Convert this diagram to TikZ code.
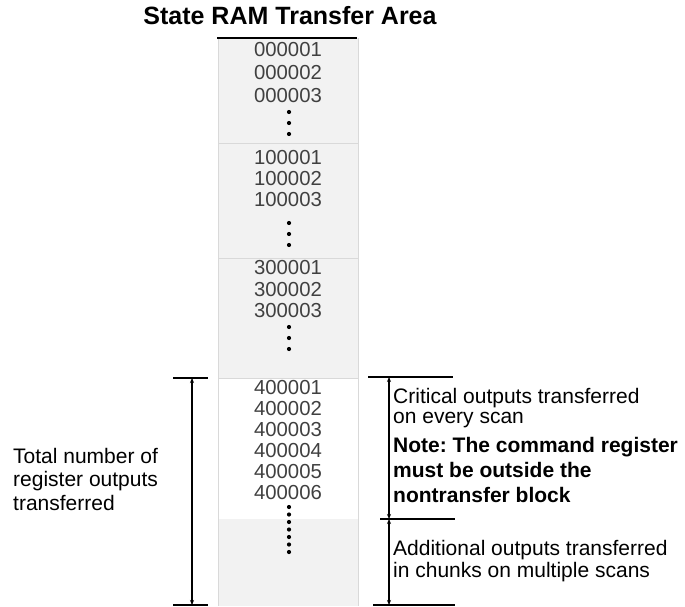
\documentclass[tikz,border=0pt]{standalone}
\usepackage{fontspec}
\setmainfont{Liberation Sans}
\usetikzlibrary{arrows.meta}
\frenchspacing

\tikzset{
  titletext/.style={font=\bfseries\fontsize{25}{28}\selectfont, inner sep=0pt},
  numtext/.style={font=\fontsize{20.3}{21}\selectfont, text=black!75, inner sep=0pt},
  labeltext/.style={align=left, anchor=base west, inner sep=0pt},
  bar/.style={line width=2.4pt},
  dimline/.style={line width=1.5pt, {Stealth[length=5pt,width=4pt]}-{Stealth[length=5pt,width=4pt]}},
}

\begin{document}
\begin{tikzpicture}[x=1pt,y=-1pt]
\useasboundingbox (0,0) rectangle (685,607);

% Title
\node[titletext, anchor=base] (title) at (290,25) {State RAM Transfer Area};

% Column background
\fill[black!5] (218,38) rectangle (358,378);
\fill[white] (218,378) rectangle (358,519);
\fill[black!5] (218,519) rectangle (358,606);
\draw[black!15, line width=1pt] (218,38) -- (218,606) (358,38) -- (358,606);
\foreach \y in {143,258,378}
    \draw[black!15, line width=1pt] (218,\y) -- (358,\y);

% Top bar
\draw[bar] (217,38) -- (357,38);

% Register numbers, blocks 0x, 1x, 3x
\foreach \pre/\y/\d/\dy in {0/50/23/112, 1/158/21/223, 3/268/21.5/327} {
    \foreach \k in {1,2,3}
        \node[numtext] (reg\pre-\k) at (288,\y+\k*\d-\d) {\pre0000\k};
    \foreach \j in {0,1,2}
        \fill (289,\dy+\j*11) circle (2.1);
}

% Register numbers, block 4x
\foreach \k in {1,...,6}
    \node[numtext] (reg4-\k) at (288,388+\k*21-21) {40000\k};
\foreach \j in {0,...,6}
    \fill (289,507+\j*7.5) circle (2.1);

% Left dimension
\coordinate (tot-top) at (192,378);
\coordinate (tot-bot) at (192,605);
\draw[bar] (173,378) -- (208,378);
\draw[bar] (173,605) -- (208,605);
\draw[dimline] (tot-top) -- (tot-bot);
\node[labeltext, font=\fontsize{21}{23.5}\selectfont] (total) at (13,510)
    {Total number of\\register outputs\\transferred};

% Right dimensions
\coordinate (crit-top) at (389,377);
\coordinate (crit-bot) at (389,519);
\coordinate (add-bot) at (389,605);
\draw[bar] (368,377) -- (453,377);
\draw[bar] (380,519) -- (455,519);
\draw[bar] (373,605) -- (455,605);
\draw[dimline] (crit-top) -- (crit-bot);
\draw[dimline] (crit-bot) -- (add-bot);

\node[labeltext, font=\fontsize{21}{20}\selectfont] (crit) at (393,423)
    {Critical outputs transferred\\on every scan};
\node[labeltext, font=\bfseries\fontsize{21}{25}\selectfont] (note) at (393,502)
    {Note: The command register\\must be outside the\\nontransfer block};
\node[labeltext, font=\fontsize{21}{22}\selectfont] (add) at (393,577)
    {Additional outputs transferred\\in chunks on multiple scans};
\end{tikzpicture}
\end{document}
